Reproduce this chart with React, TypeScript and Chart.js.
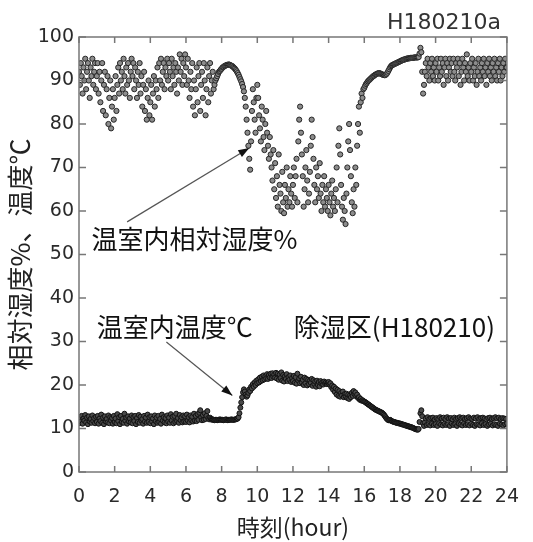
import { useEffect, useRef } from 'react';
import { Chart, registerables } from 'chart.js';

Chart.register(...registerables);

// time axis (hours), sampled every 0.05 h (3 min)
const hours: number[] = Array.from({ length: 481 }, (_, i) => i / 20);

// 温室内相対湿度 (%) – one row per hour
const humidity: number[] = [
  92, 89, 94, 91, 87, 93, 90, 95, 88, 92, 94, 90, 86, 93, 91, 95, 89, 92, 94, 88,
  91, 94, 87, 92, 85, 90, 94, 83, 89, 92, 82, 88, 91, 80, 86, 90, 79, 84, 88, 81,
  86, 91, 83, 89, 93, 87, 94, 90, 92, 88, 95, 91, 87, 93, 89, 94, 90, 86, 92, 95,
  91, 94, 88, 93, 90, 86, 92, 89, 94, 87, 91, 84, 89, 92, 83, 88, 81, 86, 90, 82,
  85, 89, 81, 87, 91, 84, 90, 88, 93, 86, 94, 90, 95, 89, 92, 94, 88, 93, 91, 95,
  90, 94, 92, 88, 95, 91, 93, 89, 94, 92, 87, 93, 90, 96, 92, 95, 89, 94, 91, 96,
  93, 89, 95, 90, 86, 92, 88, 94, 84, 90, 82, 88, 93, 85, 91, 94, 83, 89, 92, 86,
  94, 90, 82, 88, 93, 85, 91, 94, 87, 90, 92, 88, 89, 90, 90.5, 91, 91.5, 92, 92.2, 92.5,
  92.7, 93, 93.1, 93.3, 93.4, 93.5, 93.6, 93.6, 93.7, 93.6, 93.5, 93.4, 93.3, 93.1, 92.9, 92.7, 92.4, 92.1, 91.7, 91.3,
  90.8, 90.3, 89.8, 89.2, 88.5, 87.5, 86, 84, 81, 78, 75, 72, 69.5, 76, 83, 88, 85, 81, 78, 86,
  89, 86, 82, 79, 76, 84, 81, 77, 74, 80, 83, 78, 75, 72, 77, 73, 70, 67, 74, 65,
  71, 63, 68, 61, 73, 66, 64, 60, 69, 62, 59.5, 66, 63, 70, 61, 65, 62, 68, 64, 61,
  66, 70, 63, 68, 72, 62, 76, 81, 84, 78, 73, 68, 61, 65, 70, 74, 67, 62, 64, 69,
  75, 81, 77, 72, 66, 62, 70, 65, 68, 63, 71, 64, 60, 66, 62, 68, 61, 65, 63, 60,
  66, 62, 59, 64, 67, 61, 63, 60, 65, 70, 62, 75, 79, 73, 66, 61, 58, 63, 60, 57,
  64, 70, 76, 80, 74, 68, 62, 59.5, 65, 61, 70, 66, 75, 80, 84, 78, 85, 87, 86, 88,
  88.3, 88.8, 89.2, 89.5, 89.8, 90, 90.2, 90.4, 90.6, 90.8, 91, 91.1, 91.3, 91.4, 91.5, 91.6, 91.7, 91.7, 91.6, 91.5,
  91.4, 91.3, 91.3, 91.2, 91.3, 91.5, 91.8, 92.2, 92.6, 93, 93.3, 93.5, 93.6, 93.7, 93.8, 93.9, 94, 94.1, 94.2, 94.3,
  94.4, 94.5, 94.6, 94.7, 94.8, 94.8, 94.9, 95, 95, 95.1, 95.1, 95.1, 95.2, 95.2, 95.2, 95.2, 95.3, 95.3, 95.3, 95.3,
  95.3, 95.4, 96.2, 97.5, 96.5, 92, 87, 89, 92, 94, 91, 95, 93, 90, 94, 92, 95, 91, 93, 90,
  94, 92, 95, 90, 93, 91, 95, 92, 94, 89, 93, 95, 91, 94, 90, 93, 95, 92, 94, 91,
  95, 92, 90, 94, 93, 95, 91, 94, 89, 92, 95, 93, 90, 94, 92, 96, 91, 93, 90, 94,
  92, 95, 90, 93, 91, 94, 89, 92, 95, 91, 93, 90, 94, 92, 95, 91, 93, 89, 94, 92,
  95, 91, 93, 90, 94, 92, 95, 91, 93, 90, 94, 92, 95, 90, 93, 91, 94, 92, 95, 93,
  93,
];

// 温室内温度 (℃) – one row per hour
const temperature: number[] = [
  11.2, 12.6, 11.6, 12.9, 11.1, 12.3, 11.8, 13.1, 11.4, 12.5, 11.0, 12.8, 11.6, 12.2, 11.3, 13.0, 11.7, 12.4, 11.2, 12.7,
  11.5, 12.9, 11.1, 12.3, 11.7, 13.2, 11.3, 12.5, 11.0, 12.8, 11.6, 12.2, 11.4, 13.0, 11.2, 12.6, 11.8, 12.4, 11.1, 12.9,
  11.5, 12.3, 11.2, 13.3, 11.7, 12.6, 11.0, 12.9, 11.5, 12.2, 11.3, 13.4, 11.8, 12.5, 11.1, 12.8, 11.6, 12.3, 11.4, 13.0,
  11.2, 12.6, 11.7, 12.9, 11.0, 12.4, 11.5, 13.1, 11.3, 12.7, 11.8, 12.2, 11.1, 12.9, 11.6, 12.5, 11.3, 13.2, 11.5, 12.6,
  11.2, 12.8, 11.6, 12.3, 11.0, 13.0, 11.7, 12.5, 11.3, 12.9, 11.5, 12.2, 11.1, 13.2, 11.8, 12.6, 11.4, 12.4, 11.2, 13.0,
  11.6, 12.5, 11.3, 13.3, 11.8, 12.7, 11.2, 12.9, 11.5, 13.4, 11.7, 12.4, 11.3, 13.1, 11.9, 12.6, 11.4, 13.0, 11.6, 12.8,
  11.5, 13.2, 11.8, 12.6, 11.4, 13.0, 11.9, 12.7, 11.6, 13.4, 11.8, 12.9, 11.7, 13.3, 12.0, 13.6, 14.2, 12.6, 11.9, 13.1,
  12.0, 13.5, 12.2, 12.9, 14.0, 12.4, 12.1, 12.5, 12.2, 12.0, 12.1, 12.0, 11.9, 12.0, 12.0, 11.9, 12.0, 12.0, 12.1, 12.0,
  12.0, 12.0, 11.9, 12.0, 12.0, 12.1, 12.0, 11.9, 12.0, 12.0, 12.0, 12.1, 12.0, 12.0, 12.0, 12.1, 12.1, 12.2, 12.3, 12.6,
  13.5, 14.8, 16.0, 17.2, 18.3, 19.0, 18.5, 17.8, 17.3, 17.6, 18.2, 19.0, 18.6, 19.6, 19.2, 20.2, 19.6, 20.6, 20.0, 21.0,
  20.4, 21.3, 20.6, 21.7, 20.9, 21.9, 21.1, 22.2, 21.3, 22.0, 21.5, 22.5, 21.4, 22.3, 21.7, 22.6, 21.6, 22.7, 21.9, 22.4,
  21.7, 22.8, 21.5, 22.6, 21.2, 22.4, 21.6, 22.9, 21.0, 22.3, 20.8, 22.0, 21.4, 22.5, 20.9, 21.8, 21.2, 22.2, 20.7, 21.6,
  20.9, 22.1, 20.5, 21.8, 20.3, 22.6, 21.0, 21.5, 20.4, 21.9, 20.6, 21.2, 20.0, 21.7, 20.4, 21.4, 19.9, 21.2, 20.2, 21.0,
  20.5, 21.4, 19.8, 21.1, 20.2, 20.8, 19.6, 21.0, 20.0, 20.7, 19.7, 20.9, 20.3, 20.6, 20.1, 20.8, 20.4, 20.6, 20.2, 20.5,
  20.7, 20.1, 20.4, 19.5, 19.9, 18.9, 19.6, 18.4, 19.2, 17.8, 18.9, 17.5, 18.6, 17.3, 18.2, 17.6, 18.5, 17.2, 17.9, 17.4,
  18.0, 17.0, 17.8, 16.8, 17.6, 17.2, 18.2, 17.5, 18.6, 17.9, 18.3, 17.4, 17.8, 17.0, 17.2, 16.6, 16.8, 16.4, 16.5, 16.3,
  16.2, 16.1, 15.9, 15.8, 15.6, 15.5, 15.3, 15.2, 15.0, 14.9, 14.7, 14.6, 14.4, 14.3, 14.2, 14.1, 14.0, 13.9, 13.8, 13.7,
  13.6, 13.4, 13.2, 12.9, 12.6, 12.3, 12.1, 11.9, 11.9, 12.0, 11.8, 11.7, 11.6, 11.5, 11.5, 11.4, 11.3, 11.3, 11.2, 11.2,
  11.1, 11.1, 11.0, 10.9, 10.9, 10.8, 10.7, 10.7, 10.6, 10.5, 10.5, 10.4, 10.3, 10.3, 10.2, 10.1, 10.0, 9.9, 9.8, 9.8,
  9.7, 9.9, 11.5, 13.5, 14.2, 12.8, 11.2, 10.6, 11.4, 12.3, 10.8, 12.6, 11.0, 12.2, 10.7, 12.4, 11.1, 12.5, 10.8, 12.1,
  11.0, 12.4, 10.6, 12.2, 11.2, 12.6, 10.9, 12.3, 10.7, 12.5, 11.1, 12.2, 10.8, 12.6, 11.0, 12.3, 10.6, 12.4, 11.2, 12.1,
  10.8, 12.5, 11.0, 12.2, 10.6, 12.4, 11.1, 12.6, 10.9, 12.3, 10.7, 12.5, 11.2, 12.2, 10.8, 12.4, 11.0, 12.6, 10.7, 12.3,
  11.1, 12.2, 10.8, 12.5, 10.6, 12.3, 11.0, 12.6, 10.9, 12.2, 10.7, 12.4, 11.2, 12.5, 10.8, 12.3, 11.0, 12.1, 10.6, 12.4,
  10.9, 12.5, 11.1, 12.2, 10.7, 12.4, 11.0, 12.6, 10.8, 12.3, 10.6, 12.5, 11.1, 12.2, 10.9, 12.4, 10.7, 12.3, 11.0, 12.2,
  11.2,
];

const chartTag = 'H180210a';
const xTitle = '時刻(hour)';
const yTitle = '相対湿度%、温度℃';
const rhLabel = '温室内相対湿度%';
const tLabel = '温室内温度℃';
const plotLabel = '除湿区(H180210)';

const TICK_FONT = '"DejaVu Sans", "Liberation Sans", sans-serif';
const CJK_FONT = '"Noto Sans CJK JP", "Noto Sans", sans-serif';

function arrow(ctx: CanvasRenderingContext2D, x1: number, y1: number, x2: number, y2: number) {
  ctx.save();
  ctx.strokeStyle = '#555';
  ctx.lineWidth = 1.2;
  ctx.beginPath();
  ctx.moveTo(x1, y1);
  ctx.lineTo(x2, y2);
  ctx.stroke();
  const ang = Math.atan2(y2 - y1, x2 - x1);
  const len = 11;
  const half = 4;
  ctx.fillStyle = '#111';
  ctx.beginPath();
  ctx.moveTo(x2, y2);
  ctx.lineTo(x2 - len * Math.cos(ang) + half * Math.sin(ang), y2 - len * Math.sin(ang) - half * Math.cos(ang));
  ctx.lineTo(x2 - len * Math.cos(ang) - half * Math.sin(ang), y2 - len * Math.sin(ang) + half * Math.cos(ang));
  ctx.closePath();
  ctx.fill();
  ctx.restore();
}

const decorPlugin = {
  id: 'decor',
  afterDraw(chart: any) {
    const { ctx, chartArea: a, scales } = chart;
    const x = scales.x;
    const y = scales.y;
    ctx.save();
    // frame
    ctx.strokeStyle = '#777';
    ctx.lineWidth = 1.5;
    ctx.strokeRect(a.left, a.top, a.right - a.left, a.bottom - a.top);
    // inward ticks on all four sides
    ctx.beginPath();
    x.ticks.forEach((t: any) => {
      const px = x.getPixelForValue(t.value);
      ctx.moveTo(px, a.bottom);
      ctx.lineTo(px, a.bottom - 6);
      ctx.moveTo(px, a.top);
      ctx.lineTo(px, a.top + 6);
    });
    y.ticks.forEach((t: any) => {
      const py = y.getPixelForValue(t.value);
      ctx.moveTo(a.left, py);
      ctx.lineTo(a.left + 7, py);
      ctx.moveTo(a.right, py);
      ctx.lineTo(a.right - 7, py);
    });
    ctx.stroke();

    // tag at top right
    ctx.fillStyle = '#333';
    ctx.font = `22px ${TICK_FONT}`;
    ctx.textAlign = 'right';
    ctx.textBaseline = 'middle';
    ctx.fillText(chartTag, a.right - 6, a.top - 14);

    // annotations
    ctx.fillStyle = '#111';
    ctx.font = `26px ${CJK_FONT}`;
    ctx.textAlign = 'left';
    ctx.fillText(rhLabel, x.getPixelForValue(0.7), y.getPixelForValue(53.6));
    ctx.fillText(tLabel, x.getPixelForValue(1.0), y.getPixelForValue(33.3));
    ctx.fillText(plotLabel, x.getPixelForValue(12.05), y.getPixelForValue(33.3));
    ctx.restore();

    arrow(ctx, x.getPixelForValue(2.7), y.getPixelForValue(57.5), x.getPixelForValue(9.55), y.getPixelForValue(74.5));
    arrow(ctx, x.getPixelForValue(4.9), y.getPixelForValue(29.9), x.getPixelForValue(8.6), y.getPixelForValue(17.6));
  },
};

export default function App() {
  const ref = useRef<HTMLCanvasElement | null>(null);

  useEffect(() => {
    if (!ref.current) return;
    const chart = new Chart(ref.current, {
      type: 'scatter',
      data: {
        datasets: [
          {
            label: rhLabel,
            data: hours.map((h, i) => ({ x: h, y: humidity[i] })),
            pointRadius: 2.6,
            pointBackgroundColor: '#8c8c8c',
            pointBorderColor: '#262626',
            pointBorderWidth: 1,
            showLine: false,
          },
          {
            label: tLabel,
            data: hours.map((h, i) => ({ x: h, y: temperature[i] })),
            pointRadius: 2.5,
            pointBackgroundColor: '#4a4a4a',
            pointBorderColor: '#111111',
            pointBorderWidth: 1,
            showLine: false,
          },
        ],
      },
      options: {
        responsive: false,
        animation: false,
        layout: { padding: { left: 0, right: 24, top: 37, bottom: 0 } },
        plugins: {
          legend: { display: false },
          tooltip: { enabled: false },
          title: { display: false },
        },
        scales: {
          x: {
            type: 'linear',
            min: 0,
            max: 24,
            grid: { display: false, drawTicks: false },
            border: { display: false },
            ticks: {
              stepSize: 2,
              padding: 14,
              color: '#2a2a2a',
              font: { family: TICK_FONT, size: 19 },
              maxRotation: 0,
              autoSkip: false,
            },
            title: {
              display: true,
              text: xTitle,
              color: '#222',
              font: { family: CJK_FONT, size: 23 },
              padding: { top: 0, bottom: 1 },
            },
            afterFit: (s: any) => {
              s.height = 70;
            },
          },
          y: {
            min: 0,
            max: 100,
            grid: { display: false, drawTicks: false },
            border: { display: false },
            ticks: {
              stepSize: 10,
              padding: 5,
              color: '#2a2a2a',
              font: { family: TICK_FONT, size: 19 },
            },
            title: {
              display: true,
              text: yTitle,
              color: '#222',
              font: { family: CJK_FONT, size: 26 },
              padding: { top: 5, bottom: 0 },
            },
            afterFit: (s: any) => {
              s.width = 79;
            },
          },
        },
      },
      plugins: [decorPlugin],
    });
    return () => chart.destroy();
  }, []);

  return (
    <div style={{ position: 'fixed', left: 0, top: 0, width: 533, height: 542, background: '#fff' }}>
      <canvas ref={ref} width={533} height={542} />
    </div>
  );
}
